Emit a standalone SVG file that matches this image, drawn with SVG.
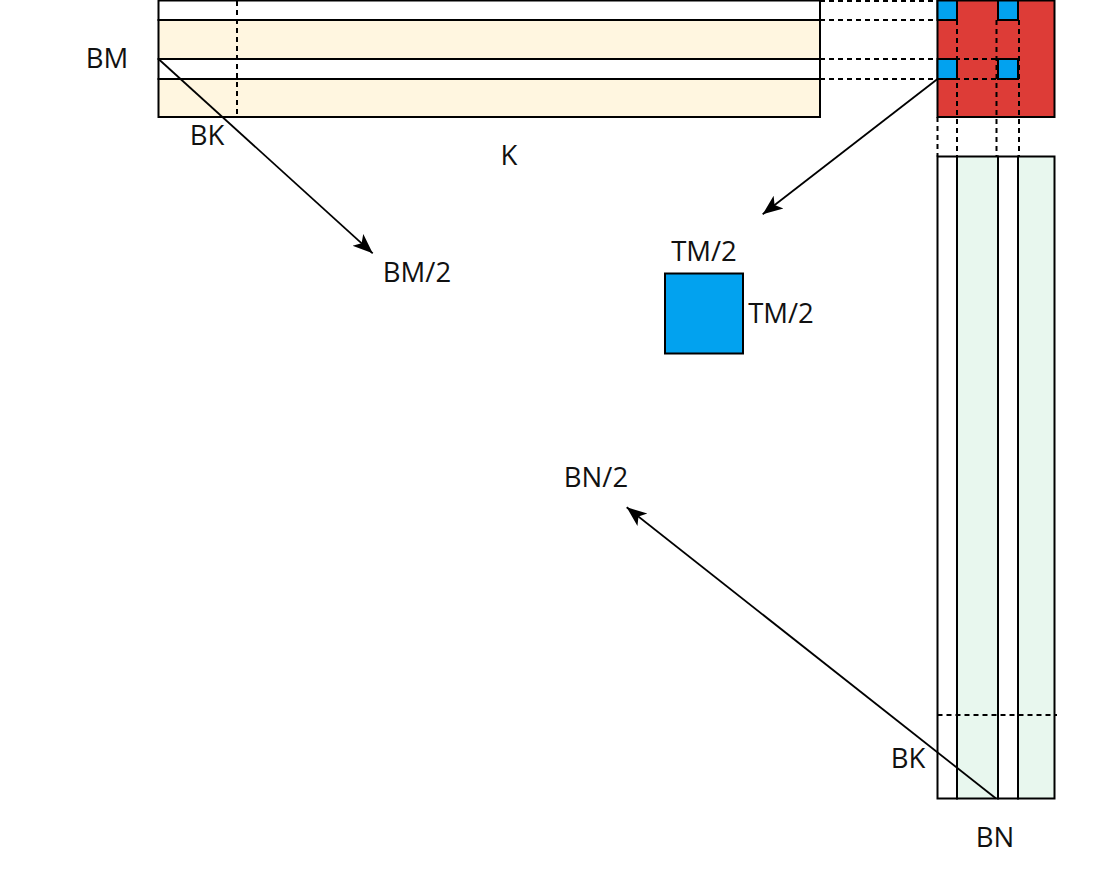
<svg xmlns="http://www.w3.org/2000/svg" width="1106" height="880" viewBox="0 0 1106 880">
<style>
.b{stroke:#000;stroke-width:2}
.y{fill:#fff6e0}
.w{fill:#ffffff}
.g{fill:#e8f7ee}
.r{fill:#dd3c37}
.bl{fill:#02a2ef}
.d{stroke:#000;stroke-width:2;stroke-dasharray:5 4;fill:none}
.a{stroke:#000;stroke-width:1.8;fill:none;marker-end:url(#ah)}
text{font-family:"Open Sans","Noto Sans",sans-serif;font-size:27.5px;fill:#111;text-anchor:middle}
</style>
<defs>
<marker id="ah" markerUnits="userSpaceOnUse" markerWidth="22" markerHeight="18" viewBox="0 0 22 18" refX="20" refY="9" orient="auto">
<path d="M0,1 L20,9 L0,17 L5,9 z" fill="#000"/>
</marker>
</defs>
<rect width="1106" height="880" fill="#fff"/>
<g id="matrixA">
<rect class="b w" x="158.5" y="0.5" width="661.5" height="19.5"/>
<rect class="b y" x="158.5" y="20" width="661.5" height="39"/>
<rect class="b w" x="158.5" y="59" width="661.5" height="20"/>
<rect class="b y" x="158.5" y="79" width="661.5" height="38"/>
<line class="d" x1="237" y1="1" x2="237" y2="117"/>
</g>
<g id="matrixC">
<rect class="b r" x="937.5" y="0.5" width="117" height="116.5"/>
<rect class="b bl" x="937.5" y="0.5" width="19.5" height="19.5"/>
<rect class="b bl" x="998" y="0.5" width="20" height="19.5"/>
<rect class="b bl" x="937.5" y="59" width="19.5" height="20"/>
<rect class="b bl" x="998" y="59" width="20" height="20"/>
</g>
<g id="matrixB">
<rect class="b w" x="937.5" y="156.5" width="19.5" height="642"/>
<rect class="b g" x="957" y="156.5" width="41" height="642"/>
<rect class="b w" x="998" y="156.5" width="20" height="642"/>
<rect class="b g" x="1018" y="156.5" width="36.5" height="642"/>
<line class="d" x1="937.5" y1="715" x2="1057" y2="715"/>
</g>
<g id="tile">
<rect class="b bl" x="665" y="273.5" width="78" height="80"/>
</g>
<g id="guides">
<line class="d" x1="820" y1="1" x2="937.5" y2="1"/>
<line class="d" x1="820" y1="20" x2="937.5" y2="20"/>
<line class="d" x1="820" y1="59" x2="998" y2="59"/>
<line class="d" x1="820" y1="79" x2="998" y2="79"/>
<line class="d" x1="957" y1="20" x2="957" y2="156.5"/>
<line class="d" x1="996.5" y1="20" x2="996.5" y2="156.5"/>
<line class="d" x1="1019" y1="20" x2="1019" y2="156.5"/>
<line class="d" x1="937.5" y1="117" x2="937.5" y2="156.5"/>
</g>
<g id="connectors">
<line class="a" x1="158.5" y1="59" x2="372.7" y2="253.3"/>
<line class="a" x1="937.5" y1="79" x2="762.7" y2="214.3"/>
<line class="a" x1="996" y1="798.5" x2="626.7" y2="507.3"/>
</g>
<g id="labels">
<text x="107" y="68">BM</text>
<text x="207" y="145">BK</text>
<text x="509" y="165">K</text>
<text x="417" y="282">BM/2</text>
<text x="704" y="261">TM/2</text>
<text x="781" y="323">TM/2</text>
<text x="596" y="487">BN/2</text>
<text x="908" y="768">BK</text>
<text x="995" y="847">BN</text>
</g>
</svg>
